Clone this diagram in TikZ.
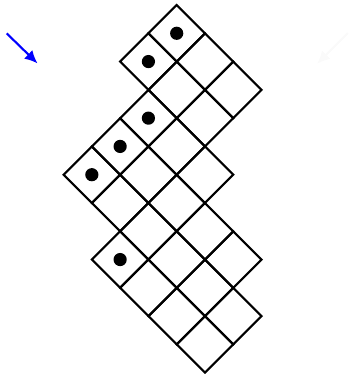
\documentclass[tikz,border=0pt]{standalone}
\usepackage{tikz}
\usetikzlibrary{arrows.meta}
\tikzset{
  cell/.style   ={draw, line width=1.5pt, line join=miter},
  bead/.style   ={fill=black},
  flow/.style   ={-{Latex[length=3.2mm, width=3mm]}, line width=1.5pt, blue},
  faint/.style  ={-{Latex[length=3.2mm, width=3mm]}, line width=1.5pt, black!2},
}
\begin{document}
\begin{tikzpicture}
  \useasboundingbox (-4.4175,0.125) rectangle (4.3325,-9.225);
  % direction arrows
  \coordinate (bs) at (-4.25,-0.71);
  \coordinate (be) at (-3.48,-1.46);
  \coordinate (fs) at (4.28,-0.70);
  \coordinate (fe) at (3.51,-1.47);
  \draw[flow]  (bs) -- (be);
  \draw[faint] (fs) -- (fe);
  % columns j with cells u = a .. b-1, first cell marked
  \begin{scope}[rotate=-45]
    \foreach \j/\a/\b in {0/0/3, 1/0/3, 2/1/4, 3/1/6, 4/1/7, 5/3/7}{
      \pgfmathtruncatemacro{\last}{\b-1}
      \foreach \i in {\a,...,\last}
        \draw[cell] (\i,-\j) rectangle ++(1,-1);
      \fill[bead] (\a+0.5,-\j-0.5) circle (0.165);
    }
  \end{scope}
\end{tikzpicture}
\end{document}
